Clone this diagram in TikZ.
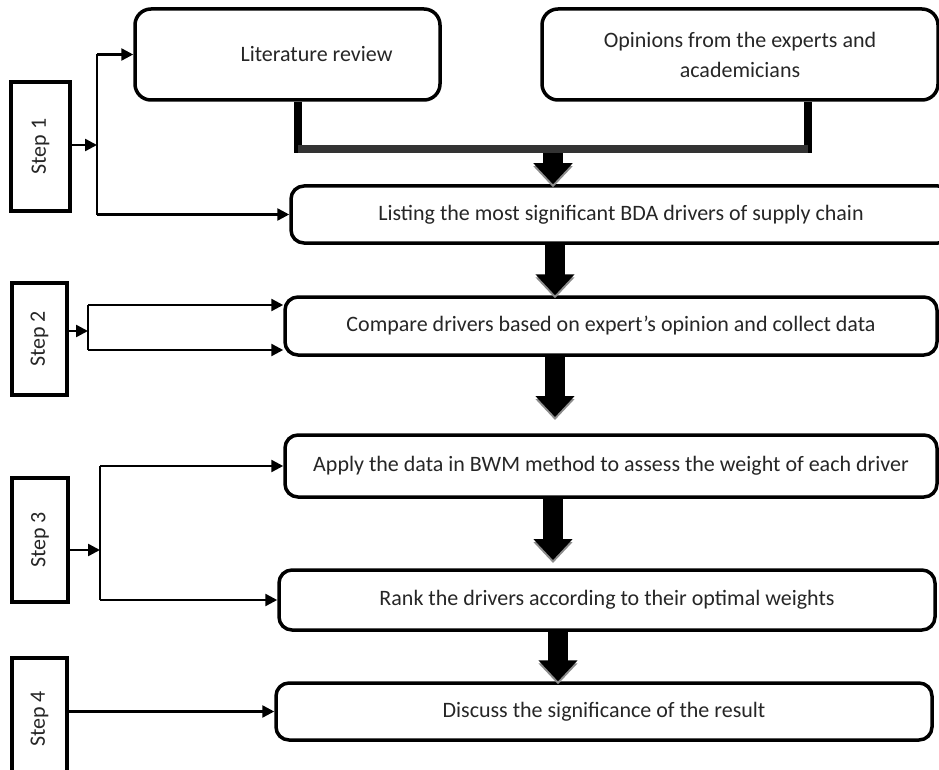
\documentclass[tikz,border=0pt]{standalone}
\usepackage{fontspec}
\setmainfont{Carlito}
\usetikzlibrary{arrows.meta}

\tikzset{
	box/.style={draw, line width=3.5pt, rounded corners=13pt, inner sep=0pt, align=center, text=black!85, font=\fontsize{22}{30}\selectfont},
	stepbox/.style={draw, line width=3.5pt, inner sep=0pt, text=black!85, font=\fontsize{22}{30}\selectfont},
	conn/.style={line width=2.5pt, -{Triangle[length=12pt,width=12pt]}},
	spine/.style={line width=2.5pt},
	bracket/.style={line width=8pt},
	bigarrow/.style={line width=20pt, -{Triangle[length=21pt,width=38pt]}},
	bigshadow/.style={bigarrow, draw=black!45, transform canvas={yshift=-3pt}}
}

\begin{document}
\begin{tikzpicture}[x=1pt, y=-1pt]
		\useasboundingbox (0,0) rectangle (939,770);
		
		% main boxes
		\node[box, rounded corners=16pt, minimum width=305pt, minimum height=91pt] (lit) at (287.5,54.5) {\hspace*{58pt}Literature review};
		\node[box, rounded corners=16pt, minimum width=396pt, minimum height=91pt] (opi) at (740,54.5) {Opinions from the experts and\\academicians};
		\node[box, minimum width=660pt, minimum height=57pt] (list) at (621,214.5) {Listing the most significant BDA drivers of supply chain};
		\node[box, minimum width=652pt, minimum height=58pt] (cmp) at (611,326) {Compare drivers based on expert’s opinion and collect data};
		\node[box, minimum width=652pt, minimum height=62pt] (apply) at (611,466) {Apply the data in BWM method to assess the weight of each driver};
		\node[box, minimum width=656pt, minimum height=60pt] (rank) at (607,600) {Rank the drivers according to their optimal weights};
		\node[box, minimum width=656pt, minimum height=57pt] (disc) at (604,711.5) {Discuss the significance of the result};
		
		% step labels
		\node[stepbox, minimum width=59pt, minimum height=129pt] (s1) at (40.5,146.5) {\rotatebox{90}{Step 1}};
		\node[stepbox, minimum width=55pt, minimum height=112pt] (s2) at (39.5,339) {\rotatebox{90}{Step 2}};
		\node[stepbox, minimum width=56pt, minimum height=124pt] (s3) at (40,540) {\rotatebox{90}{Step 3}};
		\node[stepbox, minimum width=55pt, minimum height=122pt] (s4) at (39.5,719) {\rotatebox{90}{Step 4}};
		
		% joining bracket
		\coordinate (bl) at (298,149);
		\coordinate (br) at (808,149);
		\draw[bracket] (lit.south -| bl) -- (bl) -- (br) -- (opi.south -| br);
		\draw[bracket, black!80] (bl) -- (br);
		
		% step 1
		\coordinate (j1) at (97,145);
		\draw[conn] (s1.east |- j1) -- (j1);
		\draw[spine] (j1 |- lit.west) -- (j1 |- list.west);
		\draw[conn] (j1 |- lit.west) -- (lit.west);
		\draw[conn] (j1 |- list.west) -- (list.west);
		
		% step 2
		\coordinate (j2) at (88,331);
		\coordinate (c2a) at ([yshift=21pt]cmp.west);
		\coordinate (c2b) at ([yshift=-24pt]cmp.west);
		\draw[conn] (s2.east |- j2) -- (j2);
		\draw[spine] (j2 |- c2a) -- (j2 |- c2b);
		\draw[conn] (j2 |- c2a) -- (c2a);
		\draw[conn] (j2 |- c2b) -- (c2b);
		
		% step 3
		\coordinate (j3) at (100,550);
		\draw[conn] (s3.east |- j3) -- (j3);
		\draw[spine] (j3 |- apply.west) -- (j3 |- rank.west);
		\draw[conn] (j3 |- apply.west) -- (apply.west);
		\draw[conn] (j3 |- rank.west) -- (rank.west);
		
		% step 4
		\draw[conn] (s4.east |- disc.west) -- (disc.west);
		
		% block arrows
		\coordinate (a1) at (553,153);
		\coordinate (a2) at (555,0);
		\coordinate (t3) at (555,417);
		\coordinate (t4) at (553,560);
		\coordinate (a5) at (558,0);
		\draw[bigshadow] (a1) -- (list.north -| a1);
		\draw[bigarrow] (a1) -- (list.north -| a1);
		\draw[bigshadow] (list.south -| a2) -- (cmp.north -| a2);
		\draw[bigarrow] (list.south -| a2) -- (cmp.north -| a2);
		\draw[bigshadow] (cmp.south -| t3) -- (t3);
		\draw[bigarrow] (cmp.south -| t3) -- (t3);
		\draw[bigshadow] (apply.south -| t4) -- (t4);
		\draw[bigarrow] (apply.south -| t4) -- (t4);
		\draw[bigshadow] (rank.south -| a5) -- (disc.north -| a5);
		\draw[bigarrow] (rank.south -| a5) -- (disc.north -| a5);
	
	\end{tikzpicture}
\end{document}
